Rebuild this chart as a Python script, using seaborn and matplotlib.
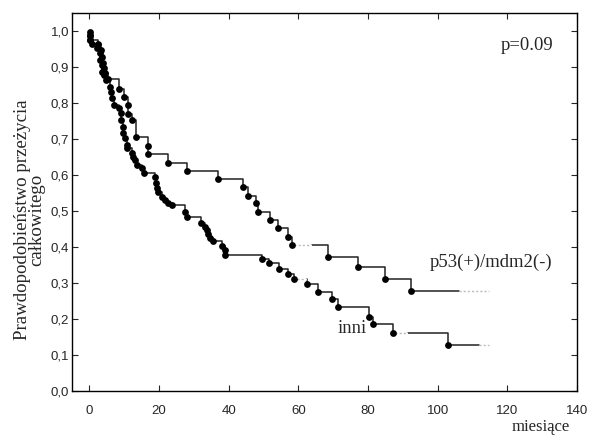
import numpy as np
import pandas as pd
import matplotlib
matplotlib.use("Agg")
import matplotlib.pyplot as plt
import seaborn as sns

# ---- data ----
upper_t = [0.3, 0.3, 2.6, 3.2, 3.7, 4.0, 4.3, 4.6, 5.2, 8.6, 9.8, 11.2, 11.2, 12.1, 13.3,
           16.7, 16.7, 22.5, 27.9, 36.9, 44.1, 45.5, 47.8, 48.4, 51.9, 54.2, 57.0, 58.2,
           68.6, 77.2, 85.0, 92.2]
upper_s = [0.989, 0.975, 0.964, 0.947, 0.928, 0.911, 0.897, 0.883, 0.867, 0.839, 0.817, 0.794,
           0.769, 0.753, 0.706, 0.681, 0.658, 0.633, 0.611, 0.589, 0.567, 0.542, 0.522, 0.497,
           0.475, 0.453, 0.428, 0.406, 0.372, 0.344, 0.311, 0.278]
upper_end = 106.0
upper_cens_end = 114.7
# short censored (dotted) stretches inside the curves: (start, end, level)
upper_cens_mid = [(58.8, 63.2, 0.406)]

lower_t = [0.3, 0.3, 0.3, 0.6, 2.3, 2.9, 2.9, 3.5, 3.7, 4.3, 4.9, 5.8, 6.3, 6.6, 7.2, 8.6,
           9.2, 9.2, 9.5, 9.5, 10.1, 10.7, 10.9, 12.1, 12.4, 13.0, 13.8, 15.0, 15.8, 18.7,
           19.0, 19.3, 19.6, 20.7, 21.6, 22.5, 23.6, 27.4, 27.9, 32.0, 33.1, 33.7, 34.0,
           34.6, 35.4, 38.0, 38.9, 38.9, 49.6, 51.6, 54.5, 57.0, 58.8, 62.5, 65.7, 69.7,
           71.4, 80.4, 81.5, 87.3, 103.1]
lower_s = [0.997, 0.986, 0.975, 0.964, 0.953, 0.939, 0.919, 0.906, 0.886, 0.878, 0.864, 0.844,
           0.831, 0.814, 0.794, 0.786, 0.772, 0.753, 0.733, 0.717, 0.703, 0.683, 0.675, 0.661,
           0.650, 0.642, 0.628, 0.619, 0.606, 0.594, 0.578, 0.564, 0.553, 0.539, 0.531, 0.522,
           0.517, 0.497, 0.483, 0.467, 0.456, 0.447, 0.436, 0.425, 0.417, 0.403, 0.392, 0.378,
           0.367, 0.356, 0.339, 0.325, 0.311, 0.297, 0.275, 0.256, 0.233, 0.206, 0.186, 0.161,
           0.128]
lower_end = 112.0
lower_cens_end = 114.7
lower_cens_mid = [(59.6, 62.0, 0.311), (87.8, 91.0, 0.161)]

x_ticks = [0, 20, 40, 60, 80, 100, 120, 140]
y_ticks = [0.0, 0.1, 0.2, 0.3, 0.4, 0.5, 0.6, 0.7, 0.8, 0.9, 1.0]
y_ticklabels = ["0,0", "0,1", "0,2", "0,3", "0,4", "0,5", "0,6", "0,7", "0,8", "0,9", "1,0"]

label_upper = "p53(+)/mdm2(-)"
label_lower = "inni"
p_text = "p=0.09"
xlabel = "miesiące"
ylabel = "Prawdopodobieństwo przeżycia\ncałkowitego"

# ---- plotting ----
sns.set_style("white")
plt.rcParams["font.family"] = ["Liberation Sans", "DejaVu Sans"]

fig = plt.figure(figsize=(5.93, 4.36), dpi=100)
ax = fig.add_axes([72 / 593, 1 - 391 / 436, (577 - 72) / 593, (391 - 13) / 436])


def step_df(t, s, end):
    xs = [0.0] + list(t) + [end]
    ys = [1.0] + list(s) + [s[-1]]
    return pd.DataFrame({"t": xs, "s": ys})


for t, s, end, cend, mids in [(upper_t, upper_s, upper_end, upper_cens_end, upper_cens_mid),
                              (lower_t, lower_s, lower_end, lower_cens_end, lower_cens_mid)]:
    df = step_df(t, s, end)
    sns.lineplot(data=df, x="t", y="s", ax=ax, drawstyle="steps-post",
                 estimator=None, sort=False, color="#222222", linewidth=1.1)
    cdf = pd.DataFrame({"t": [end, cend], "s": [s[-1], s[-1]]})
    sns.lineplot(data=cdf, x="t", y="s", ax=ax, estimator=None, sort=False,
                 color="#bbbbbb", linewidth=1.0, linestyle=(0, (1.5, 1.5)))
    for a, b, lev in mids:
        mdf = pd.DataFrame({"t": [a, b], "s": [lev, lev]})
        sns.lineplot(data=mdf, x="t", y="s", ax=ax, estimator=None, sort=False,
                     color="white", linewidth=2.2, zorder=3)
        sns.lineplot(data=mdf, x="t", y="s", ax=ax, estimator=None, sort=False,
                     color="#bbbbbb", linewidth=1.0, linestyle=(0, (1.5, 1.5)), zorder=4)
    pts = pd.DataFrame({"t": t, "s": s})
    sns.scatterplot(data=pts, x="t", y="s", ax=ax, color="black", s=24,
                    edgecolor="black", linewidth=0, zorder=5)

ax.set_xlim(-5, 140)
ax.set_ylim(0, 1.05)
ax.set_xticks(x_ticks)
ax.set_xticklabels([str(v) for v in x_ticks], fontsize=9.5, family=["Liberation Sans", "DejaVu Sans"])
ax.set_yticks(y_ticks)
ax.set_yticklabels(y_ticklabels, fontsize=9.5, family=["Liberation Sans", "DejaVu Sans"])
ax.tick_params(direction="in", length=4, width=0.8, top=True, right=True,
               bottom=True, left=True, labeltop=False, labelright=False)
ax.tick_params(axis="x", pad=10)
ax.tick_params(axis="y", pad=2)
for sp in ax.spines.values():
    sp.set_visible(True)
    sp.set_color("black")
    sp.set_linewidth(1.0)
ax.set_xlabel("")
ax.set_ylabel("")

serif = ["Liberation Serif", "DejaVu Serif"]
fig.text(541 / 593, 1 - 427 / 436, xlabel, fontsize=12, family=serif, ha="center", va="center")
fig.text(30 / 593, 1 - 220 / 436, ylabel, fontsize=13.6, family=serif, ha="center", va="center",
         rotation=90, linespacing=0.78)
ax.text(118, 0.961, p_text, fontsize=13.4, family=serif, ha="left", va="center")
ax.text(97.7, 0.358, label_upper, fontsize=13.4, family=serif, ha="left", va="center")
ax.text(75.5, 0.175, label_lower, fontsize=13.4, family=serif, ha="center", va="center")

fig.savefig("out.png", dpi=100)
